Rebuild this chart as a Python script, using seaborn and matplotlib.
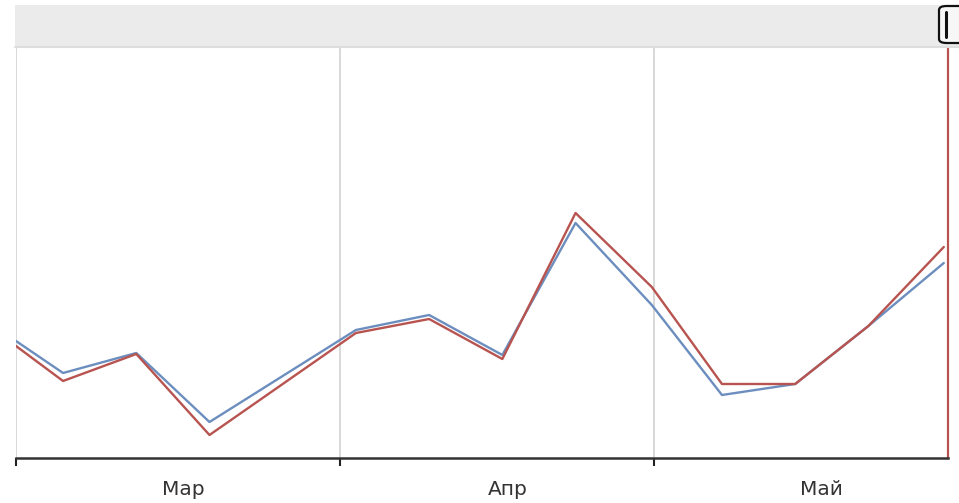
import numpy as np
import pandas as pd
import matplotlib
matplotlib.use("Agg")
import matplotlib.pyplot as plt
import matplotlib.dates as mdates
from matplotlib.patches import Rectangle, FancyBboxPatch
from matplotlib.lines import Line2D
import seaborn as sns

# ---- data ----
dates = pd.to_datetime([
    "2024-03-01 00:00", "2024-03-05 12:00", "2024-03-12 12:00", "2024-03-19 12:00",
    "2024-04-02 12:00", "2024-04-09 12:00", "2024-04-16 12:00", "2024-04-23 12:00",
    "2024-04-30 19:00", "2024-05-07 12:00", "2024-05-14 12:00", "2024-05-21 12:00",
    "2024-05-28 17:00",
])
series_blue = [117, 85, 105, 36, 128, 143, 103, 235, 153, 63, 74, 132, 195]
series_red = [112, 77, 104, 23, 125, 139, 99, 245, 171, 74, 74, 132, 211]
series_names = ["A", "B"]
month_ticks = pd.to_datetime(["2024-03-01", "2024-04-01", "2024-05-01"])
month_label_pos = pd.to_datetime(["2024-03-17", "2024-04-17", "2024-05-17"])
month_labels = ["Мар", "Апр", "Май"]
x_start = pd.Timestamp("2024-03-01")
x_end = pd.Timestamp("2024-05-29 02:40")

df = pd.DataFrame({
    "date": list(dates) * 2,
    "value": series_blue + series_red,
    "series": [series_names[0]] * len(dates) + [series_names[1]] * len(dates),
})

sns.set_theme(style="white")
plt.rcParams["font.family"] = ["DejaVu Sans"]

W, H = 959, 503
fig = plt.figure(figsize=(W / 100, H / 100), dpi=100)
fig.patch.set_facecolor("white")

def fx(px):
    return px / W

def fy(py):
    return 1 - py / H

ax = fig.add_axes([fx(16), fy(458), fx(948) - fx(16), fy(48) - fy(458)])

sns.lineplot(data=df, x="date", y="value", hue="series",
             palette={"A": "#6c8ebf", "B": "#b85450"},
             linewidth=1.7, legend=False, ax=ax, estimator=None, sort=True)

ax.set_xlim(x_start, x_end)
ax.set_ylim(0, 410)
ax.set_xlabel("")
ax.set_ylabel("")
ax.set_yticks([])

ax.set_xticks(month_ticks)
ax.set_xticklabels([])
ax.set_xticks(month_label_pos, minor=True)
ax.set_xticklabels(month_labels, minor=True)
ax.tick_params(axis="x", which="major", direction="out", length=6, width=1.5,
               color="#222222", bottom=True)
ax.tick_params(axis="x", which="minor", length=0, pad=16, labelsize=14.5,
               labelcolor="#333333")

ax.grid(True, axis="x", which="major", color="#d6d6d6", linewidth=1.3)
ax.set_axisbelow(True)

for s in ["top", "left"]:
    ax.spines[s].set_visible(False)
ax.spines["bottom"].set_color("#333333")
ax.spines["bottom"].set_linewidth(1.8)
ax.spines["right"].set_color("#b85450")
ax.spines["right"].set_linewidth(1.6)

# top band
fig.patches.append(Rectangle((fx(15), fy(47)), 1 - fx(15), fy(5) - fy(47),
                             transform=fig.transFigure, facecolor="#ebebeb",
                             edgecolor="none", zorder=0))
fig.lines.append(Line2D([fx(15), 1], [fy(47), fy(47)], transform=fig.transFigure,
                        color="#dddddd", linewidth=1.5))
# handle
fig.patches.append(FancyBboxPatch((fx(939), fy(43)), fx(30), fy(6) - fy(43),
                                  boxstyle="round,pad=0,rounding_size=0.008",
                                  transform=fig.transFigure, facecolor="#f7f7f7",
                                  edgecolor="#111111", linewidth=1.6, zorder=3))
fig.lines.append(Line2D([fx(946), fx(946)], [fy(12), fy(37)], transform=fig.transFigure,
                        color="#111111", linewidth=2.2, zorder=4))

fig.savefig("out.png", dpi=100)
